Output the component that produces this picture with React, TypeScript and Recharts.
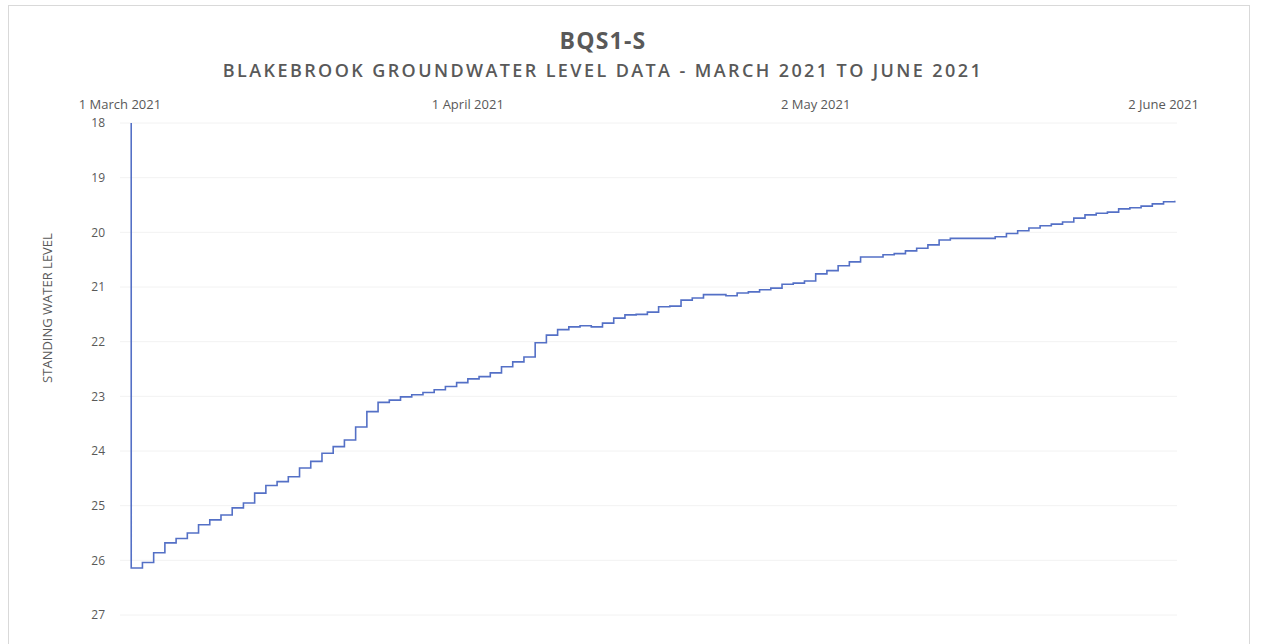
import React from 'react'
import { LineChart, Line, XAxis, YAxis, CartesianGrid } from 'recharts'

// days counted from 1 March 2021
const tickDays = [0, 31, 62, 93]
const tickLabels = ['1 March 2021', '1 April 2021', '2 May 2021', '2 June 2021']
const levelTicks = [18, 19, 20, 21, 22, 23, 24, 25, 26, 27]

// first logged reading sits off the top of the scale
const firstDay = 1
const firstReading = 18

// daily standing water level, 2 March .. 3 June 2021
const levels = [
  26.14, 26.04, 25.86, 25.68, 25.6, 25.5, 25.35, 25.26, 25.17, 25.04,
  24.95, 24.77, 24.63, 24.56, 24.47, 24.31, 24.19, 24.04, 23.92, 23.8,
  23.56, 23.28, 23.11, 23.07, 23.01, 22.97, 22.93, 22.88, 22.82, 22.75,
  22.68, 22.64, 22.57, 22.46, 22.37, 22.28, 22.02, 21.88, 21.78, 21.73,
  21.71, 21.73, 21.66, 21.57, 21.51, 21.5, 21.46, 21.36, 21.35, 21.24,
  21.2, 21.14, 21.14, 21.16, 21.11, 21.09, 21.05, 21.02, 20.95, 20.93,
  20.89, 20.76, 20.7, 20.61, 20.54, 20.45, 20.45, 20.41, 20.39, 20.34,
  20.29, 20.23, 20.14, 20.11, 20.11, 20.11, 20.11, 20.08, 20.02, 19.97,
  19.92, 19.88, 19.85, 19.81, 19.74, 19.68, 19.65, 19.63, 19.57, 19.55,
  19.52, 19.48, 19.44, 19.42,
]

const data = [
  { day: firstDay, level: firstReading },
  ...levels.map((v, i) => ({ day: firstDay + i, level: v })),
]

const GREY = '#595959'
const FONT = '"Open Sans", "Noto Sans", sans-serif'

export default function App() {
  return (
    <div style={{ position: 'absolute', left: 0, top: 0, width: 1262, height: 644, background: '#fff', fontFamily: FONT, overflow: 'hidden' }}>
      <div style={{ position: 'absolute', left: 8, top: 5, width: 1242, height: 700, border: '1px solid #d9d9d9', boxSizing: 'border-box' }} />
      <div style={{ position: 'absolute', left: 0, width: 1206, top: 24, textAlign: 'center', fontSize: 23, fontWeight: 700, color: GREY, letterSpacing: 1.2 }}>
        BQS1-S
      </div>
      <div style={{ position: 'absolute', left: 0, width: 1206, top: 58, textAlign: 'center', fontSize: 18, fontWeight: 600, color: GREY, letterSpacing: 2.4 }}>
        BLAKEBROOK GROUNDWATER LEVEL DATA - MARCH 2021 TO JUNE 2021
      </div>
      <div style={{ position: 'absolute', left: 47, top: 308, transform: 'translate(-50%, -50%) rotate(-90deg)', whiteSpace: 'nowrap', fontSize: 13, color: GREY }}>
        STANDING WATER LEVEL
      </div>
      <div style={{ position: 'absolute', left: 0, top: 0 }}>
        <LineChart width={1262} height={644} data={data} margin={{ top: 93, right: 85, bottom: 29, left: 60 }}>
          <CartesianGrid horizontal vertical={false} stroke="#f2f2f2" />
          <XAxis
            dataKey="day"
            type="number"
            orientation="top"
            domain={[0, 94.2]}
            ticks={tickDays}
            tickFormatter={(d: number) => tickLabels[tickDays.indexOf(d)] ?? ''}
            axisLine={false}
            tickLine={false}
            tickSize={6}
            tickMargin={8}
            height={30}
            tick={{ fontSize: 13, fill: GREY, fontFamily: FONT }}
            interval={0}
          />
          <YAxis
            type="number"
            reversed
            domain={[18, 27]}
            ticks={levelTicks}
            allowDataOverflow
            axisLine={false}
            tickLine={false}
            tickSize={6}
            tickMargin={9}
            width={60}
            interval={0}
            tick={{ fontSize: 12, fill: GREY, fontFamily: FONT }}
          />
          <Line
            type="stepAfter"
            dataKey="level"
            stroke="#5470c6"
            strokeWidth={1.6}
            dot={false}
            isAnimationActive={false}
          />
        </LineChart>
      </div>
    </div>
  )
}
